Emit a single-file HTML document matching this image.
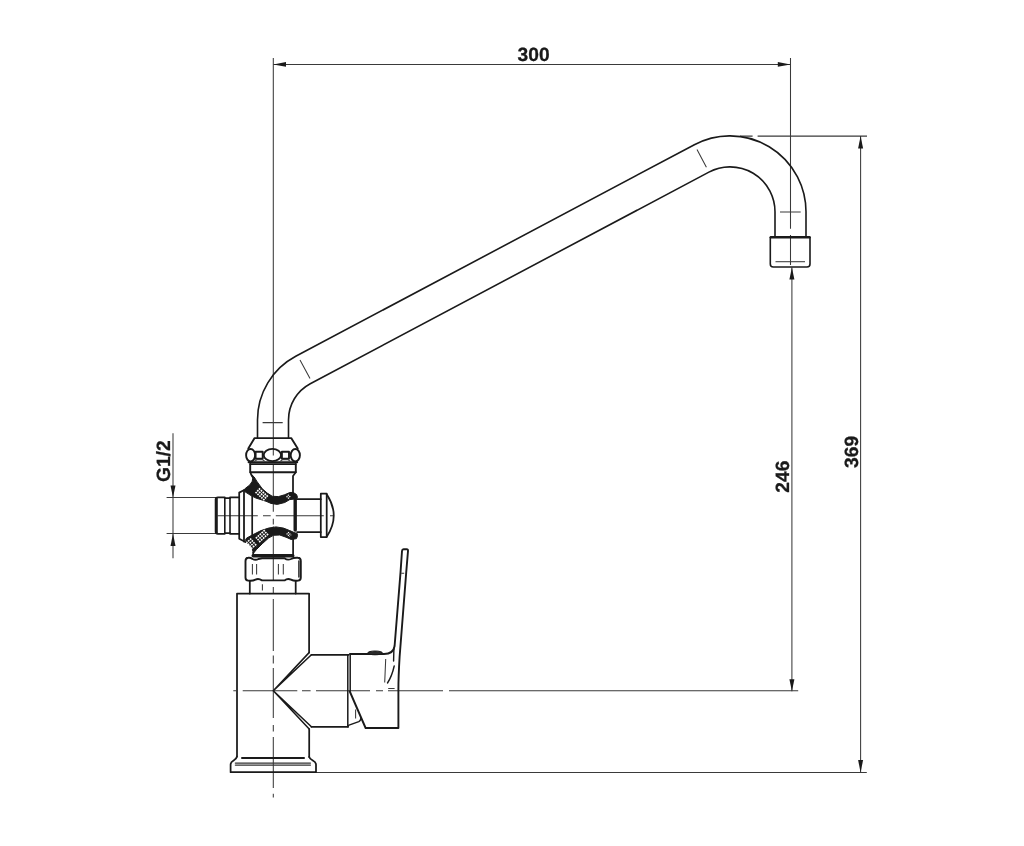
<!DOCTYPE html>
<html><head><meta charset="utf-8">
<style>
html,body{margin:0;padding:0;background:#fff;}
body{width:1024px;height:846px;overflow:hidden;font-family:"Liberation Sans",sans-serif;}
svg{display:block;will-change:transform;}
.k{fill:none;stroke:#1a1a1a;stroke-width:1.75;stroke-linejoin:round;stroke-linecap:round;}
.m{fill:none;stroke:#1a1a1a;stroke-width:1.4;stroke-linejoin:round;stroke-linecap:round;}
.t{fill:none;stroke:#3a3a3a;stroke-width:1.05;}
.b{fill:#1a1a1a;stroke:#1a1a1a;stroke-width:1;stroke-linejoin:round;}
.a{fill:#1a1a1a;stroke:none;}
text{text-rendering:geometricPrecision;font-family:"Liberation Sans",sans-serif;font-weight:bold;font-size:19.2px;fill:#1a1a1a;stroke:#1a1a1a;stroke-width:0.3;text-anchor:middle;}
</style></head>
<body>
<svg width="1024" height="846" viewBox="0 0 1024 846">

<!-- ===== dimension / thin lines ===== -->
<g class="t">
<!-- top 300 -->
<path d="M273.3,58V455.5"/>
<path d="M273.3,64.4H790.5"/>
<path d="M790.5,58V228.7M790.5,235V265"/>
<!-- 246 -->
<path d="M791.9,267.6V691.2"/>
<!-- 369 -->
<path d="M740,136.1H752.6M757.6,136.1H867"/>
<path d="M860.6,136V772.4"/>
<path d="M316,772.4H866.8"/>
<!-- G1/2 -->
<path d="M173,433.3V558.3"/>
<path d="M166.6,497.5H216M166.6,533.5H216"/>
<!-- vertical centre line (dash-dot) -->
<path d="M273.3,464.8V511.7M273.3,518.8V524.4M273.3,526.5V580.6M273.3,587V593M273.3,599V651M273.3,655.6V663.4M273.3,668V718M273.3,725V731.4M273.3,737V788M273.3,793.8V797.5"/>
<!-- valve horizontal centre -->
<path d="M217.5,515.7H257.8M263,515.7H270.7M275.8,515.7H323.8M330,515.7H333"/>
<!-- handle horizontal centre -->
<path d="M233.3,690.8H236M242.7,690.8H297.3M302,690.8H310.6M316,690.8H370M376,690.8H383M388,690.8H443M449,690.8H798.2"/>
<!-- ticks on pipe -->
<path d="M300,360L310,378.5M697,149.5L706.4,167.3"/>
<path d="M262.6,422.6H282.7M780,212H800.7"/>
<!-- nozzle inner -->
<path d="M775.5,261.7H805"/>
</g>
<!-- arrows -->
<g class="a">
<path d="M273.3,64.4L286,62.1V66.7Z"/>
<path d="M790.5,64.4L777.8,62.1V66.7Z"/>
<path d="M791.9,267.6L789.4,279.4H794.4Z"/>
<path d="M791.9,691.2L789.4,679.3H794.4Z"/>
<path d="M860.6,136L858.1,148.5H863.1Z"/>
<path d="M860.6,772.4L858.1,760H863.1Z"/>
<path d="M173,497.5L170.5,485.6H175.5Z"/>
<path d="M173,533.5L170.5,546H175.5Z"/>
</g>
<!-- text -->
<text x="533.6" y="61.4">300</text>
<text transform="translate(170,461.2) rotate(-90)">G1/2</text>
<text transform="translate(789.1,476.7) rotate(-90)">246</text>
<text transform="translate(858,451.9) rotate(-90)">369</text>

<!-- ===== spout pipe ===== -->
<g class="k" style="stroke-width:1.6">
<path d="M257.50,438 V419.90 A72.00,72.00 0 0 1 295.74,356.30 L694.37,144.72 A76.00,76.00 0 0 1 806.00,211.85 V237"/>
<path d="M288.50,438 V419.90 A41.00,41.00 0 0 1 310.28,383.69 L708.90,172.10 A45.00,45.00 0 0 1 775.00,211.85 V237"/>
<!-- nozzle -->
<path d="M770.3,237.3H810V264Q810,267 807,267H773.3Q770.3,267 770.3,264Z"/>
<path d="M771,237.3H809.4" stroke-width="2.6"/>
</g>

<!-- ===== upper nut ===== -->
<g class="k" style="stroke-width:1.9">
<path d="M248.3,448.6L254.6,438.1H291.2L297.7,448.6"/>
<ellipse cx="250.6" cy="455.2" rx="4.5" ry="6.2"/>
<ellipse cx="295.3" cy="455.2" rx="4.6" ry="6.2"/>
<ellipse cx="272.4" cy="455" rx="8.7" ry="6.1"/>
<rect x="255.6" y="451.8" width="7.1" height="6.9"/>
<rect x="281.9" y="451.8" width="7.1" height="6.9"/>
<path d="M248.6,462.3H297.2" stroke-width="2"/>
<path d="M250.2,464.1H295.8" stroke-width="1.8"/>
<!-- collar -->
<path d="M250.2,464V472.3H295.8V464"/>
</g>
<path class="t" d="M254,461.6L257,459.8H262.5L265.4,461.6M279.6,461.6L282.5,459.8H288L291,461.6"/>

<!-- ===== valve body ===== -->
<g class="k">
<path d="M250.4,472.3Q251,475 252.6,477"/>
<path d="M295.8,472.3L293,476V493"/>
<path d="M293.1,537V554.5"/>
<path d="M253.2,552.5V554.5"/>
</g>
<!-- upper band -->
<path class="b" d="M251.60,474.60L254.10,476.90L257.25,481.90L262.25,488.75L267.25,493.10L272.25,496.25L278.50,496.60L284.75,494.70L289.75,492.50L293.20,492.40L296.60,494.60L297.40,496.90L297.00,498.60L293.50,499.20L289.75,499.60L284.75,502.50L277.25,504.40L271.00,503.40L266.00,501.25L256.00,498.10L251.00,495.60L244.75,491.60L243.60,490.30L245.40,488.30L249.75,485.00L252.25,481.25L252.70,478.10Z"/>
<path d="M258.89,488.36L268.49,497.16M257.20,490.20L266.80,499.00M255.51,492.04L265.11,500.84" fill="none" stroke="#fff" stroke-width="1.7" stroke-dasharray="1.7 0.9"/>
<path d="M287.85,494.84L290.85,497.44M286.55,496.36L289.55,498.96" fill="none" stroke="#fff" stroke-width="1.3" stroke-dasharray="1.2 0.8"/>
<!-- lower band -->
<path class="b" d="M245.60,539.60L246.60,538.10L252.25,535.00L261.00,530.60L268.50,528.10L276.00,526.90L283.50,528.10L289.75,530.60L294.10,532.50L297.25,533.60L297.50,535.80L296.50,538.60L293.50,539.20L291.00,539.40L286.00,537.20L279.75,535.00L273.50,535.30L268.50,538.10L262.25,543.75L256.60,549.40L253.40,553.30L252.90,551.50L252.25,548.75L249.75,545.00L246.00,541.80Z"/>
<path d="M250.16,538.50L256.76,546.10M248.20,540.20L254.80,547.80M246.24,541.90L252.84,549.50" fill="none" stroke="#fff" stroke-width="1.7" stroke-dasharray="1.6 0.9"/>
<path d="M255.82,538.35L264.82,530.15M257.50,540.20L266.50,532.00M259.18,542.05L268.18,533.85" fill="none" stroke="#fff" stroke-width="1.6" stroke-dasharray="1.7 0.9"/>
<path d="M288.13,532.12L291.13,535.32M286.67,533.48L289.67,536.68" fill="none" stroke="#fff" stroke-width="1.3" stroke-dasharray="1.2 0.8"/>

<!-- flange + inlet stub -->
<g class="k">
<path d="M243.8,490.2L239.2,492.6V538.8L245.4,542"/>
<path d="M244,490.5V541.5" stroke-width="1.8"/>
<path d="M252.2,496V535" stroke-width="1.7"/>
<!-- stub -->
<path d="M239,497.3H230V498.2H224.8V497.3H218Q215.6,497.3 215.6,499.5V531.5Q215.6,533.8 218,533.8H224.8V533H230V533.8H239"/>
<path d="M216.5,498.5V532.5" stroke-width="2.6"/>
<path d="M224.8,498.2V533M230,498.2V533" stroke-width="1.6"/>
</g>

<!-- right stem + knob -->
<g class="k">
<path d="M295.2,499.6V530" stroke-width="3.4"/>
<path d="M297,499.2H320.8M297,532H320.8"/>
<rect x="320.8" y="493.7" width="5.9" height="43.4"/>
<path d="M326.7,494.2Q340.8,515.6 326.7,536.8"/>
</g>

<!-- thick bar above lower nut -->
<path d="M253.2,555.8H292.8" class="k" stroke-width="3.4" style="stroke-width:3.4"/>
<!-- lower nut -->
<g class="k" style="stroke-width:1.9">
<path d="M248.2,557.8 Q250.5,557.4 252.5,559 Q255.5,560.6 258.5,559 L262,558.2H284.5 Q287.5,560.6 291,559 Q294,557.4 298,557.8 Q300.8,558 300.8,561V577.5Q300.8,580.4 298,580.6 Q294,581.2 291,579.6 Q287.5,578 284.5,580.4 H262 Q258.5,578 255.5,579.6 Q252.5,581.2 248.2,580.6 Q245.5,580.4 245.5,577.5V561Q245.5,558 248.2,557.8Z"/>
<path d="M298.9,561V577" stroke-width="1.4"/>
</g>
<path class="t" d="M252.4,564V574.4M256.6,564V574.4M278.4,564V574.4M283.3,564V574.4M262.4,584.3V590.4"/>

<!-- neck + body -->
<g class="k">
<path d="M249.8,581V593.5M295.7,581V593.5"/>
<path d="M237,756.6V593.5H309.1V652.6"/>
<path d="M309.2,729V757"/>
<!-- base -->
<path d="M237,756.5Q236.6,758.6 233.6,760.6Q230.6,762.4 230.6,764.4V772.2H316V764.4Q316,762.4 312.8,760.6Q309.6,758.8 309.2,756.8"/>
<path d="M242,758H304" stroke-width="2"/>
<path d="M235.4,763.1H310.4M235.4,765.1H310.4" stroke="#333" stroke-width="1.4"/>
</g>

<!-- branch -->
<g class="k">
<path d="M311.4,654.8H348.6M311.4,726.8H348.2"/>
<path d="M273.3,690.8L309.1,652.6M273.3,690.8L311.4,654.8M273.3,690.8L309.2,729M273.3,690.8L311.4,726.8" stroke-width="1.55"/>
<path d="M347.8,654.8V726.8" stroke-width="1.5"/>
<path d="M350.2,654V691" stroke-width="1.5"/>
</g>

<!-- handle -->
<g class="k" style="stroke-width:1.9">
<path d="M350,654H384 Q393.5,654 394.6,646 C395.5,634 397,613.8 400.5,572.6 L402,551 Q402.1,549.3 403.6,549.3 H406.6 Q408.2,549.3 408,551 L406.2,572.6 C403,613.8 400.5,645 399.6,657 C398.8,670 398.4,680 398.4,690 V728 H365.6 L349.8,691.5"/>
<path d="M348.3,725.4L358.8,721.6Q360.6,720.6 361,718" stroke-width="1.5"/>
</g>
<ellipse cx="375.1" cy="652.9" rx="7.3" ry="1.9" fill="#2a2a2a" stroke="#1a1a1a" stroke-width="1"/>
<path class="m" d="M393.9,648.4L393.6,661"/>
<path class="m" d="M394.2,666Q392,676 387.5,683" stroke-width="1.3"/>
<path class="t" d="M385.7,659L384.7,682.4M388.2,688.4H394.6M355.6,709.4V718.6M401.2,573.3H404.2"/>
</svg>
</body></html>
